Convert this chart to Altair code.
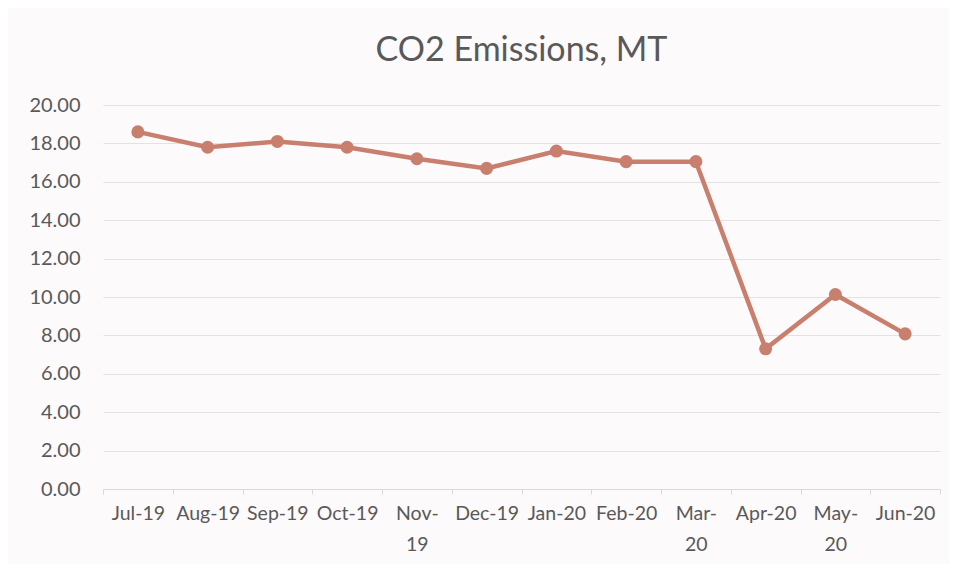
import altair as alt
import pandas as pd

months = ["Jul-19", "Aug-19", "Sep-19", "Oct-19", "Nov-19", "Dec-19",
          "Jan-20", "Feb-20", "Mar-20", "Apr-20", "May-20", "Jun-20"]
emissions = [18.6, 17.8, 18.1, 17.8, 17.2, 16.7, 17.6, 17.05, 17.05, 7.3, 10.13, 8.08]
y_ticks = [0, 2, 4, 6, 8, 10, 12, 14, 16, 18, 20]

df = pd.DataFrame({"month": months, "value": emissions})

FONT = "Lato"
TXT = "#595959"
COLOR = "#c97f6e"

label_expr = ("indexof(['Nov-19','Mar-20','May-20'], datum.label) >= 0 ? "
              "split(replace(datum.label, '-', '-|'), '|') : datum.label")

x = alt.X("month:N", sort=months, title=None,
          scale=alt.Scale(type="band", paddingInner=0, paddingOuter=0),
          axis=alt.Axis(labelAngle=0, labelFont=FONT, labelFontSize=19.5, labelColor=TXT,
                        labelExpr=label_expr, labelPadding=10, labelLineHeight=31,
                        labelOverlap=False, labelBound=False,
                        domainColor="#d9d9d9", tickColor="#d9d9d9", tickSize=5,
                        tickBand="extent", grid=False))
y = alt.Y("value:Q", title=None,
          scale=alt.Scale(domain=[0, 20], nice=False),
          axis=alt.Axis(values=y_ticks, format=".2f", labelFont=FONT, labelFontSize=20,
                        labelColor=TXT, labelPadding=23, tickSize=0, domain=False,
                        gridColor="#e4e1e3", gridWidth=1))

base = alt.Chart(df).encode(x=x, y=y)
line = base.mark_line(color=COLOR, strokeWidth=4.5)
pts = base.mark_point(filled=True, color=COLOR, size=170, opacity=1)

chart = (line + pts).properties(
    width=837, height=384,
    title=alt.TitleParams("CO2 Emissions, MT", font=FONT, fontSize=34, color=TXT,
                          fontWeight="normal", anchor="middle", offset=27),
    padding={"left": 95, "top": 97, "right": 9, "bottom": 75},
    autosize=alt.AutoSizeParams(type="none"),
    background="#fdfafc",
).configure_view(stroke=None)

chart.save("out.html", embed_options={"renderer": "svg", "actions": False})
